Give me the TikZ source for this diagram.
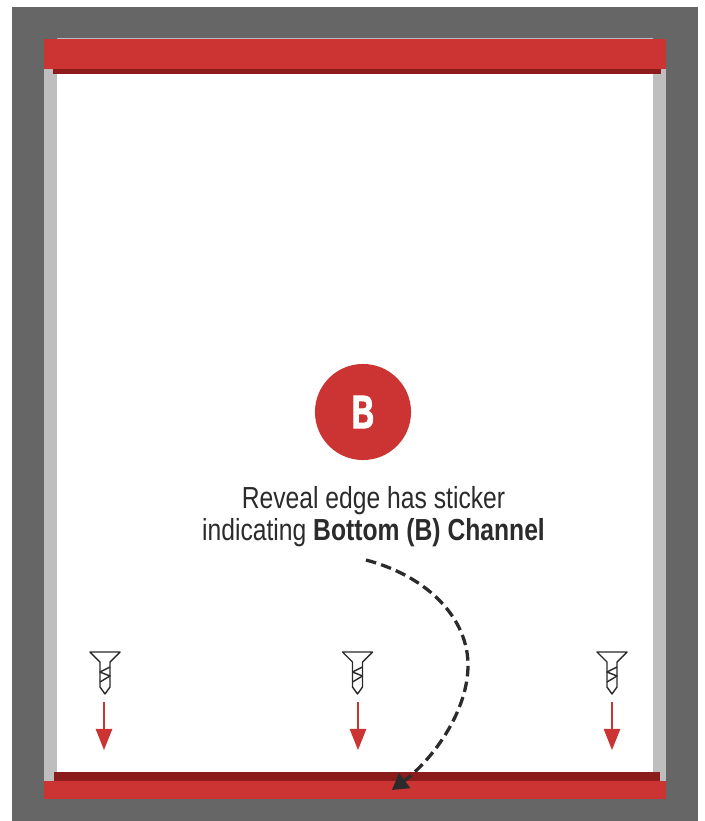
\documentclass[tikz,border=0pt]{standalone}
\usepackage{fontspec}
\usepackage{tikz}
\usetikzlibrary{arrows.meta}
\setmainfont[FakeStretch=0.81]{Liberation Sans}
\newfontfamily\badgefont[FakeStretch=0.66,FakeBold=2]{Liberation Sans Bold}
\definecolor{wallgray}{HTML}{666666}
\definecolor{revealgray}{HTML}{BEBEBE}
\definecolor{channelred}{HTML}{CC3333}
\definecolor{channeldark}{HTML}{8C1C1C}
\definecolor{notetext}{HTML}{2B2B2B}
\tikzset{
  screwline/.style={draw=notetext,line width=1.2pt,line join=round},
  droparrow/.style={draw=channelred,line width=1.2pt,-{Triangle[length=18pt,width=14pt]}},
  notearrow/.style={draw=notetext,line width=2.8pt,dash pattern=on 9pt off 4.5pt,-{Triangle[length=13.5pt,width=15.5pt,fill=notetext]}},
  badge/.style={circle,fill=channelred,text=white,minimum size=82pt,inner sep=0pt,font=\badgefont\fontsize{40}{40}\selectfont},
  note/.style={text=notetext,align=center,inner sep=0pt,font=\fontsize{26}{27.3}\selectfont}
}

\begin{document}
\begin{tikzpicture}[x=0.03cm,y=-0.03cm]
    \useasboundingbox (0,0) rectangle (704,821);

    % Wall and opening
    \fill[wallgray] (12,7) rectangle (698,821);
    \fill[revealgray] (44,39) rectangle (666,781);
    \fill[revealgray] (57,38) rectangle (653,39);
    \fill[white] (57,39) rectangle (653,781);

    % Top channel
    \fill[channeldark] (53,69) rectangle (661,74);
    \fill[channelred] (44,39) rectangle (666,69);

    % Bottom channel
    \fill[channeldark] (54,772) rectangle (660,781);
    \fill[channelred] (44,781) rectangle (666,799);

    % Sticker badge and note
    \node[badge] (stickerbadge) at (363,412) {B};
    \node[note,anchor=base] (stickernote) at (373.5,540) {Reveal edge has sticker\\indicating \textbf{Bottom (B) Channel}};

    % Screws and drop arrows
    \foreach \sx/\ax/\name in {105/104/left,357.5/358/mid,612/612/right} {
        \begin{scope}[xshift=\sx*0.03cm]
            \draw[screwline] (-15,652) -- (15,652) -- (5,662) -- (5,687) -- (0,694) -- (-5,687) -- (-5,662) -- cycle;
            \draw[screwline] (5,667) -- (-5,672) -- (5,676) -- (-5,682);
        \end{scope}
        \coordinate (droptop\name) at (\ax,702);
        \coordinate (dropend\name) at (\ax,750);
        \draw[droparrow] (droptop\name) -- (dropend\name);
    }

    % Curved arrow to the channel
    \coordinate (curvestart) at (366,560);
    \coordinate (curvemid) at (468,665);
    \coordinate (channeltip) at (392,790);
    \draw[notearrow] (curvestart) .. controls (430,577) and (468,620) .. (curvemid) .. controls (468,712) and (432,760) .. (channeltip);
\end{tikzpicture}
\end{document}
